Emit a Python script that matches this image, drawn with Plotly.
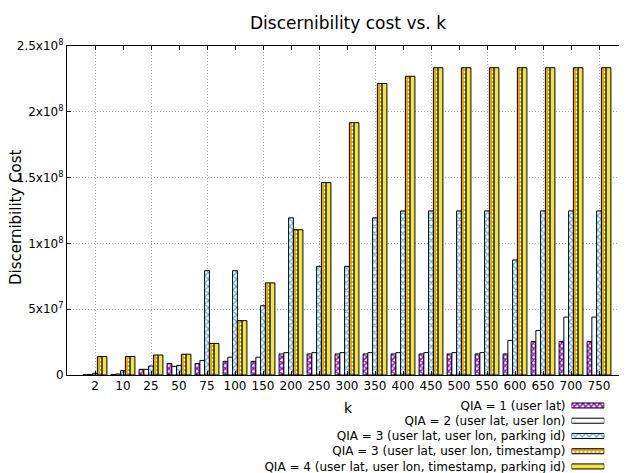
import plotly.graph_objects as go

# valeurs
k_values = ["2", "10", "25", "50", "75", "100", "150", "200", "250", "300",
            "350", "400", "450", "500", "550", "600", "650", "700", "750"]

qia1_lat = [0.2e6, 0.4e6, 4.3e6, 8.8e6, 8.7e6, 10.4e6, 10.4e6, 16.0e6, 16.0e6, 16.0e6,
            16.0e6, 16.0e6, 16.0e6, 16.0e6, 16.0e6, 16.0e6, 25.5e6, 25.5e6, 25.5e6]
qia2_lat_lon = [0.4e6, 0.8e6, 4.3e6, 6.6e6, 11.1e6, 13.5e6, 13.5e6, 17.0e6, 17.0e6, 17.0e6,
                17.0e6, 17.0e6, 17.0e6, 17.0e6, 17.0e6, 26.3e6, 33.8e6, 44.0e6, 44.0e6]
qia3_parking = [1.3e6, 3.3e6, 6.8e6, 7.3e6, 79.3e6, 79.3e6, 52.6e6, 119.4e6, 82.6e6, 82.6e6,
                119.4e6, 124.7e6, 124.7e6, 124.7e6, 124.7e6, 87.4e6, 124.7e6, 124.7e6, 124.7e6]
qia3_timestamp = [14.1e6, 14.1e6, 15.2e6, 15.8e6, 24.0e6, 41.3e6, 70.0e6, 110.4e6, 146.2e6, 191.7e6,
                  221.5e6, 227.0e6, 233.5e6, 233.5e6, 233.5e6, 233.5e6, 233.5e6, 233.5e6, 233.5e6]
qia4_all = [14.1e6, 14.1e6, 15.2e6, 15.8e6, 24.0e6, 41.3e6, 70.0e6, 110.4e6, 146.2e6, 191.7e6,
            221.5e6, 227.0e6, 233.5e6, 233.5e6, 233.5e6, 233.5e6, 233.5e6, 233.5e6, 233.5e6]

series_names = ["QIA = 1 (user lat)",
                "QIA = 2 (user lat, user lon)",
                "QIA = 3 (user lat, user lon, parking id)",
                "QIA = 3 (user lat, user lon, timestamp)",
                "QIA = 4 (user lat, user lon, timestamp, parking id)"]
series_values = [qia1_lat, qia2_lat_lon, qia3_parking, qia3_timestamp, qia4_all]

ytick_vals = [0, 5e7, 1e8, 1.5e8, 2e8, 2.5e8]
ytick_text = ["0", "5x10<sup>7</sup>", "1x10<sup>8</sup>", "1.5x10<sup>8</sup>",
              "2x10<sup>8</sup>", "2.5x10<sup>8</sup>"]

# styles des barres (motifs façon gnuplot)
styles = [
    dict(color="#9400d3", pattern=dict(shape="x", fgcolor="#9400d3", bgcolor="white",
                                       size=4, solidity=0.6, fillmode="replace")),
    dict(color="white"),
    dict(color="#56b4e9", pattern=dict(shape="x", fgcolor="#56b4e9", bgcolor="white",
                                       size=5, solidity=0.45, fillmode="replace")),
    dict(color="#e69f00", pattern=dict(shape=".", fgcolor="white", bgcolor="#e69f00",
                                       size=4, solidity=0.3, fillmode="replace")),
    dict(color="#f0e442"),
]

font = "DejaVu Sans"
grid = dict(showgrid=True, gridcolor="#a8a8a8", griddash="1px,2px", gridwidth=1)
fig = go.Figure()

for name, vals, st in zip(series_names, series_values, styles):
    fig.add_trace(go.Bar(x=k_values, y=vals, name=name, showlegend=False,
                         marker=dict(line=dict(color="black", width=1), **st)))

# trace vide pour que l'axe de la grille verticale soit dessiné
fig.add_trace(go.Scatter(x=[], y=[], xaxis="x3", yaxis="y", showlegend=False))

# légende dessinée à la main : texte à gauche, échantillon à droite
for i, (name, st) in enumerate(zip(series_names, styles)):
    fig.add_trace(go.Bar(x=[1], y=[4 - i], orientation="h", width=0.33,
                         xaxis="x2", yaxis="y2", showlegend=False, hoverinfo="skip",
                         marker=dict(line=dict(color="black", width=1), **st)))

# la page a une marge de 8 px : on réduit la figure d'autant
OFF = 8
fig.update_layout(
    width=627 - OFF, height=473 - OFF,
    margin=dict(l=67 - OFF, r=0, t=46 - OFF, b=0, autoexpand=False),
    plot_bgcolor="white", paper_bgcolor="white",
    font=dict(family=font, size=12, color="black"),
    barmode="group", bargap=0.15, bargroupgap=0,
    xaxis=dict(type="category", range=[-1, 19], domain=[0, 1], automargin=False,
               showline=True, linecolor="black", linewidth=1, mirror="ticks",
               ticks="inside", ticklen=4, tickcolor="black", showgrid=False,
               anchor="y"),
    xaxis3=dict(overlaying="x", range=[-1, 19], tickvals=list(range(0, 19, 2)),
                showticklabels=False, ticks="", showline=False, automargin=False,
                anchor="y", zeroline=False, **grid),
    yaxis=dict(range=[0, 2.5e8], domain=[0.2295, 1], tickvals=ytick_vals, ticktext=ytick_text,
               showline=True, linecolor="black", linewidth=1, mirror="ticks",
               ticks="inside", ticklen=4, tickcolor="black", automargin=False,
               zeroline=False, anchor="x", **grid),
    xaxis2=dict(domain=[0.901, 0.9595], range=[0, 1], anchor="y2",
                visible=False, fixedrange=True, automargin=False),
    yaxis2=dict(domain=[0, 0.1756], range=[-0.43, 4.49], anchor="x2",
                tickvals=[4, 3, 2, 1, 0], ticktext=series_names, automargin=False,
                ticks="", showline=False, showgrid=False, zeroline=False,
                ticklabelstandoff=5, ticklabeloverflow="allow", tickfont=dict(size=12)),
    annotations=[
        dict(text="Discernibility cost vs. k", x=347.5, y=22.5, font=dict(size=17)),
        dict(text="Discernibility Cost", x=16, y=217, textangle=-90, font=dict(size=15)),
        dict(text="k", x=348, y=408, font=dict(size=14)),
    ],
)

# positions des annotations en pixels de page -> coordonnées papier
pw, ph = 627 - 67, 473 - 46
for a in fig.layout.annotations:
    a.xref, a.yref, a.showarrow = "paper", "paper", False
    a.x = (a.x - 67) / pw
    a.y = (473 - a.y) / ph
    a.xanchor, a.yanchor = "center", "middle"

fig.write_html("out.html")
